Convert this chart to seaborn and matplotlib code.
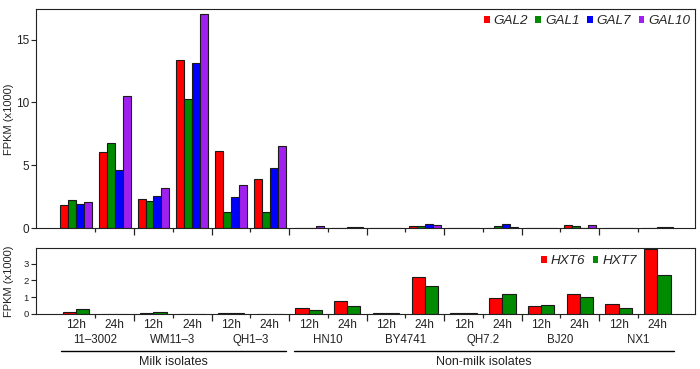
import numpy as np
import pandas as pd
import matplotlib
matplotlib.use("Agg")
import matplotlib.pyplot as plt
import seaborn as sns
from matplotlib.transforms import blended_transform_factory
from matplotlib.lines import Line2D

# ---------------- data ----------------
strains = ["11\u20133002", "WM11\u20133", "QH1\u20133", "HN10", "BY4741", "QH7.2", "BJ20", "NX1"]
times = ["12h", "24h"]
source_groups = ["Milk isolates", "Non-milk isolates"]
source_members = [3, 5]  # number of strains in each source group

gal_genes = ["GAL2", "GAL1", "GAL7", "GAL10"]
GAL2 = [1.83, 6.03, 2.30, 13.41, 6.11, 3.94, 0.05, 0.05, 0.0, 0.16, 0.0, 0.03, 0.0, 0.26, 0.0, 0.06]
GAL1 = [2.22, 6.77, 2.17, 10.29, 1.27, 1.27, 0.03, 0.02, 0.0, 0.20, 0.0, 0.18, 0.0, 0.18, 0.0, 0.04]
GAL7 = [1.93, 4.60, 2.54, 13.10, 2.49, 4.81, 0.05, 0.08, 0.0, 0.34, 0.0, 0.34, 0.0, 0.05, 0.0, 0.08]
GAL10 = [2.06, 10.48, 3.17, 17.01, 3.44, 6.53, 0.22, 0.10, 0.0, 0.26, 0.0, 0.08, 0.0, 0.29, 0.0, 0.07]

hxt_genes = ["HXT6", "HXT7"]
HXT6 = [0.12, 0.0, 0.02, 0.0, 0.03, 0.0, 0.34, 0.76, 0.05, 2.20, 0.04, 0.96, 0.46, 1.16, 0.60, 3.90]
HXT7 = [0.26, 0.0, 0.08, 0.0, 0.03, 0.0, 0.20, 0.46, 0.05, 1.68, 0.04, 1.16, 0.52, 1.00, 0.36, 2.34]

gal_colors = ["#FF0000", "#008B00", "#0000FF", "#A020F0"]
hxt_colors = ["#FF0000", "#008B00"]

samples = [f"{s} {t}" for s in strains for t in times]
n = len(samples)

gal_df = pd.DataFrame({"sample": [s for s in samples for _ in gal_genes],
                       "gene": [g for _ in samples for g in gal_genes],
                       "value": [v for row in zip(GAL2, GAL1, GAL7, GAL10) for v in row]})
hxt_df = pd.DataFrame({"sample": [s for s in samples for _ in hxt_genes],
                       "gene": [g for _ in samples for g in hxt_genes],
                       "value": [v for row in zip(HXT6, HXT7) for v in row]})

# ---------------- style ----------------
sns.set_style("ticks")
plt.rcParams["font.family"] = ["Liberation Sans", "DejaVu Sans"]
plt.rcParams["axes.linewidth"] = 0.8

fig = plt.figure(figsize=(7.0, 3.69), dpi=100)
W, H = 700, 369
ax1 = fig.add_axes([36 / W, 1 - 228.3 / H, (695 - 36) / W, (228.3 - 9.3) / H])
ax2 = fig.add_axes([36 / W, 1 - 313.7 / H, (695 - 36) / W, (313.7 - 248.3) / H])

sns.barplot(data=gal_df, x="sample", y="value", hue="gene", order=samples,
            hue_order=gal_genes, palette=gal_colors, width=0.82, saturation=1,
            errorbar=None, edgecolor="#1a1a1a", linewidth=0.8, ax=ax1)
sns.barplot(data=hxt_df, x="sample", y="value", hue="gene", order=samples,
            hue_order=hxt_genes, palette=hxt_colors, width=0.68, saturation=1,
            errorbar=None, edgecolor="#1a1a1a", linewidth=0.8, ax=ax2)

xl = (-1.03, n - 1 + 0.97)
strain_bounds = [2 * k + 1.5 for k in range(len(strains) - 1)]
intra_bounds = [2 * k + 0.5 for k in range(len(strains))]

for ax, ymax, yt, ytfs in [(ax1, 17.4, [0, 5, 10, 15], 8.5), (ax2, 3.92, [0, 1, 2, 3], 6.8)]:
    ax.set_xlim(*xl)
    ax.set_ylim(0, ymax)
    ax.set_yticks(yt)
    ax.set_yticklabels([str(v) for v in yt], fontsize=ytfs)
    ax.set_xticks(strain_bounds, labels=[""] * len(strain_bounds))
    ax.set_xticks(intra_bounds, minor=True)
    ax.tick_params(axis="x", which="major", length=5, width=0.9, direction="out")
    ax.tick_params(axis="x", which="minor", length=3.2, width=0.9, direction="out")
    ax.tick_params(axis="y", length=3.6, width=0.8, pad=1.5, colors="#222222", labelcolor="#222222")
    for sp in ax.spines.values():
        sp.set_visible(True)
        sp.set_color("#222222")
        sp.set_linewidth(0.8)
    ax.set_xlabel("")
    ax.set_ylabel("FPKM (x1000)", fontsize=8, color="#222222")
    ax.yaxis.set_label_coords(-0.034, 0.5)

# legends
for ax, genes, colors, anchor in [(ax1, gal_genes, gal_colors, (0.993, 0.972)),
                                  (ax2, hxt_genes, hxt_colors, (0.912, 0.90))]:
    handles, labels = ax.get_legend_handles_labels()
    for h in handles:
        h.set_edgecolor("none")
    ax.legend(handles, labels, loc="upper right", bbox_to_anchor=anchor, ncol=len(genes),
              frameon=False, borderpad=0, borderaxespad=0, handlelength=0.42,
              handleheight=0.42, handletextpad=0.3, columnspacing=0.55,
              prop={"style": "italic", "size": 9.7})

# bottom axis labels
tr = blended_transform_factory(ax2.transData, fig.transFigure)
for i, s in enumerate(samples):
    ax2.text(i, 1 - 325 / H, times[i % 2], transform=tr, ha="center", va="center",
             fontsize=8.6, color="#222222")
for k, s in enumerate(strains):
    ax2.text(2 * k + 0.5, 1 - 340 / H, s, transform=tr, ha="center", va="center",
             fontsize=8.3, color="#222222")

start = 0
for grp, m in zip(source_groups, source_members):
    x0 = 2 * start - 0.38
    x1 = 2 * (start + m) - 1 + 0.42
    fig.add_artist(Line2D([x0, x1], [1 - 350.7 / H] * 2, transform=tr, color="black", lw=1.0))
    ax2.text((x0 + x1) / 2, 1 - 362 / H, grp, transform=tr, ha="center", va="center",
             fontsize=9, color="#222222")
    start += m

fig.savefig("out.png", dpi=100)
